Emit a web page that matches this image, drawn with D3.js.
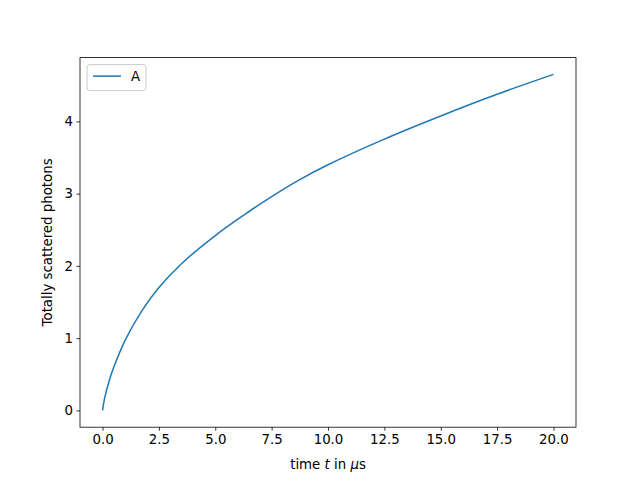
<!DOCTYPE html>
<html>
<head>
<meta charset="utf-8">
<script src="https://cdn.jsdelivr.net/npm/d3@7"></script>
<style>
body { margin: 0; background: #fff; }
text { font-family: "DejaVu Sans", sans-serif; }
</style>
</head>
<body>
<div id="chart"></div>
<script>
// values
var timeUs = [0, 0.1, 0.3, 0.5, 1, 1.75, 2.5, 3.5, 5, 6.25, 7.5, 8.75, 10, 12.5, 15, 17.5, 20];
var photons = [0, 0.18, 0.415, 0.6, 0.97, 1.38, 1.7, 2.03, 2.42, 2.7, 2.96, 3.195, 3.4, 3.755, 4.075, 4.375, 4.65];
var xTicks = [0, 2.5, 5, 7.5, 10, 12.5, 15, 17.5, 20];
var yTicks = [0, 1, 2, 3, 4];
var seriesName = 'A';

var width = 640, height = 480;
var axLeft = 80, axRight = 576, axTop = 57.6, axBottom = 427.2;

var svg = d3.select('#chart').append('svg')
    .attr('width', width)
    .attr('height', height);

var xmax = d3.max(timeUs), ymax = d3.max(photons);
var xScaler = d3.scaleLinear().domain([-0.05 * xmax, 1.05 * xmax]).range([axLeft, axRight]);
var yScaler = d3.scaleLinear().domain([-0.05 * ymax, 1.05 * ymax]).range([axBottom, axTop]);

var xAxis = svg.append('g')
    .attr('transform', `translate(0,${axBottom})`)
    .call(d3.axisBottom(xScaler).tickValues(xTicks).tickFormat(d3.format('.1f')).tickSize(3.5).tickPadding(3.5));
var yAxis = svg.append('g')
    .attr('transform', `translate(${axLeft},0)`)
    .call(d3.axisLeft(yScaler).tickValues(yTicks).tickFormat(d3.format('d')).tickSize(3.5).tickPadding(3.5));

[xAxis, yAxis].forEach(ax => {
    ax.select('.domain').remove();
    ax.selectAll('.tick line').attr('stroke', '#000').attr('stroke-width', 0.8);
    ax.selectAll('.tick text').attr('fill', '#000').style('font-size', '13.33px').style('font-family', '"DejaVu Sans", sans-serif');
});

// frame
svg.append('rect')
    .attr('x', axLeft).attr('y', axTop)
    .attr('width', axRight - axLeft).attr('height', axBottom - axTop)
    .attr('fill', 'none').attr('stroke', '#000').attr('stroke-width', 0.8);

var line = d3.line()
    .x((d, i) => xScaler(timeUs[i]))
    .y(d => yScaler(d))
    .curve(d3.curveCatmullRom.alpha(0.5));

svg.append('path')
    .datum(photons)
    .attr('d', line)
    .attr('fill', 'none')
    .attr('stroke', '#1f77b4')
    .attr('stroke-width', 1.5);

// axis labels
var xl = svg.append('text')
    .attr('x', (axLeft + axRight) / 2).attr('y', 469)
    .attr('text-anchor', 'middle')
    .style('font-size', '13.33px');
xl.append('tspan').text('time ');
xl.append('tspan').text('t').style('font-style', 'italic');
xl.append('tspan').text(' in ');
xl.append('tspan').text('μ').style('font-style', 'italic');
xl.append('tspan').text('s');

svg.append('text')
    .attr('transform', `translate(52,${(axTop + axBottom) / 2})rotate(-90)`)
    .attr('text-anchor', 'middle')
    .style('font-size', '13.33px')
    .text('Totally scattered photons');

// legend
var legend = svg.append('g').attr('transform', `translate(${axLeft + 7},${axTop + 7})`);
legend.append('rect')
    .attr('width', 59).attr('height', 26).attr('rx', 3)
    .attr('fill', '#fff').attr('fill-opacity', 0.8)
    .attr('stroke', '#ccc').attr('stroke-width', 1);
legend.append('line')
    .attr('x1', 6).attr('x2', 34).attr('y1', 11.5).attr('y2', 11.5)
    .attr('stroke', '#1f77b4').attr('stroke-width', 1.5);
legend.append('text')
    .attr('x', 44).attr('y', 16.5)
    .style('font-size', '13.33px')
    .text(seriesName);
</script>
</body>
</html>
